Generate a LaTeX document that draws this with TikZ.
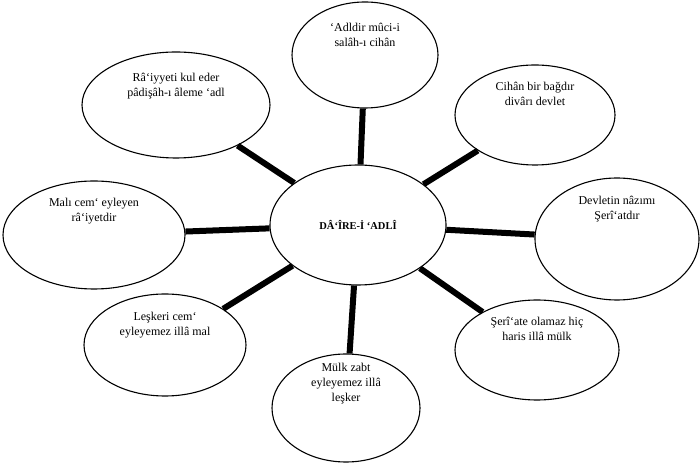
\documentclass[tikz,border=0pt]{standalone}
\usepackage{fontspec}
\setmainfont{Liberation Serif}
\usetikzlibrary{shapes.geometric}

\begin{document}
\begin{tikzpicture}[x=1pt,y=1pt,
	every node/.style={shape=ellipse,draw,line width=1.1pt,inner sep=0pt},
	oval/.style 2 args={minimum width=#1,minimum height=#2},
	txt/.style={draw=none,shape=rectangle,align=center,font=\fontsize{12}{15}\selectfont},
	spoke/.style={line width=6pt}]
	\useasboundingbox (0,0) rectangle (700,465);
	% the circle of justice
	\node (adl) [oval={176pt}{120pt},font=\fontsize{10.5}{12}\bfseries] at (358,240) {D\^A‘\^IRE-\.I ‘ADL\^I};

	% the eight sayings round it
	\node (adldir) [oval={146pt}{106pt},label={[txt,anchor=north,yshift=-21pt]north:{‘Adldir mûci-i\\salâh-ı cihân}}] at (365,410) {};
	\node (cihan) [oval={160pt}{100pt},label={[txt,anchor=north,yshift=-17pt]north:{Cihân bir bağdır\\divârı devlet}}] at (535,350) {};
	\node (devlet) [oval={164pt}{122pt},label={[txt,anchor=north,yshift=-18pt]north:{Devletin nâzımı\\Şerî‘atdır}}] at (617,226) {};
	\node (seriat) [oval={164pt}{100pt},label={[txt,anchor=north,yshift=-17pt]north:{Şerî‘ate olamaz hiç\\haris illâ mülk}}] at (537,115) {};
	\node (mulk) [oval={148pt}{108pt},label={[txt,anchor=north,yshift=-9pt]north:{Mülk zabt\\eyleyemez illâ\\leşker}}] at (346,57) {};
	\node (leskeri) [oval={162pt}{102pt},label={[txt,anchor=north,yshift=-18pt]north:{Leşkeri cem‘\\eyleyemez illâ mal}}] at (165,120) {};
	\node (mali) [oval={182pt}{108pt},label={[txt,anchor=north,yshift=-17pt]north:{Malı cem‘ eyleyen\\râ‘iyetdir}}] at (94,230) {};
	\node (raiyyet) [oval={188pt}{106pt},label={[txt,anchor=north,yshift=-21pt]north:{Râ‘iyyeti kul eder\\pâdişâh-ı âleme ‘adl}}] at (176,360) {};

	% spokes
	\draw[spoke] (adl) to (adldir);
	\draw[spoke] (adl) to (cihan);
	\draw[spoke] (adl) to (devlet);
	\draw[spoke] (adl) to (seriat);
	\draw[spoke] (adl) to (mulk);
	\draw[spoke] (adl) to (leskeri);
	\draw[spoke] (adl) to (mali);
	\draw[spoke] (adl) to (raiyyet);
\end{tikzpicture}
\end{document}
